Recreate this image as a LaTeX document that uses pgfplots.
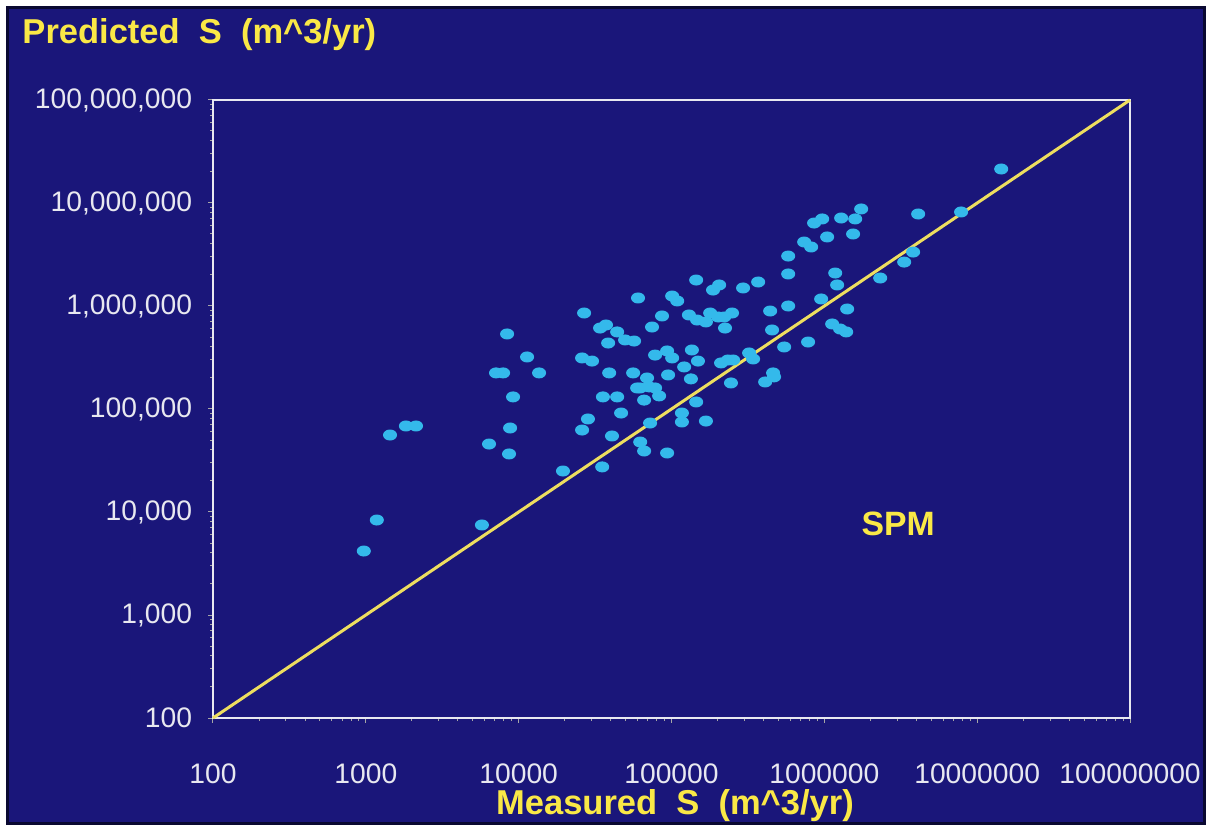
\documentclass[border=0pt]{standalone}
\usepackage{fontspec}
\setmainfont{Liberation Sans}
\usepackage{pgfplots}
\usepackage{pgfplotstable}
\pgfplotsset{compat=1.18}
\definecolor{bgblue}{RGB}{26,22,122}
\definecolor{ptcyan}{RGB}{52,185,235}
\definecolor{lnyellow}{RGB}{238,222,95}
\definecolor{ttlyellow}{RGB}{250,232,70}
\definecolor{boxwhite}{RGB}{232,232,240}

\pgfplotstableread{
meas pred
970 4180
1180 8360
1440 55900
1830 68400
2130 68400
5750 7480
6400 45700
7110 224000
7910 224000
8400 535000
8650 36600
8790 65400
9190 131000
11350 320000
13600 224000
19500 25000
26000 62500
26000 313000
26800 855000
28400 80000
30200 292000
34100 611000
35200 27400
35600 131000
37300 654000
38500 437000
39100 224000
40800 54700
44100 560000
44100 131000
46800 91400
49700 468000
56900 457000
56100 224000
59600 160000
60400 1196000
62400 47800
62400 160000
66200 39100
66200 122000
69200 200000
71300 164000
72400 73100
74600 625000
78100 334000
78100 160000
83000 134000
86700 800000
93600 366000
93600 37400
95000 214000
101000 1250000
101000 313000
109000 1119000
117000 91400
117000 74800
121000 256000
130000 818000
134000 196000
136000 374000
145000 1787000
145000 117000
147000 731000
149000 292000
168000 700000
168000 76400
179000 855000
187000 1429000
205000 1600000
202000 782000
211000 280000
221000 782000
224000 611000
234000 299000
249000 855000
253000 299000
245000 179000
294000 1496000
322000 350000
342000 306000
369000 1710000
410000 183000
442000 894000
455000 585000
462000 224000
469000 205000
546000 400000
580000 3055000
580000 2046000
580000 1000000
738000 4180000
820000 3740000
783000 447000
857000 6390000
968000 7000000
953000 1170000
1043000 4680000
1125000 669000
1178000 2090000
1213000 1600000
1268000 598000
1288000 7150000
1390000 560000
1410000 935000
1542000 5000000
1592000 7000000
1742000 8750000
2320000 1870000
3330000 2670000
3810000 3340000
4110000 7820000
7850000 8180000
14360000 21380000
}\spmdata

\begin{document}
\begin{tikzpicture}[x=0.4pt,y=0.4pt]
% background (1 unit = 1 reference pixel; axis lower-left at origin)
\fill[white] (-213,-111) rectangle (996,718);
\fill[bgblue] (-205,-105) rectangle (991,711);
\draw[black!60!bgblue, line width=1.2pt] (-205,-105) rectangle (991,711);

\begin{axis}[
  at={(0,0)}, anchor=south west,
  scale only axis,
  width=366.8pt, height=247.2pt,
  xmode=log, ymode=log,
  xmin=100, xmax=1e8, ymin=100, ymax=1e8,
  axis line style={boxwhite, line width=1pt},
  tick pos=left, tick align=outside,
  major tick length=2pt, minor tick length=1.2pt,
  every tick/.style={gray!70!white, line width=0.4pt},
  xtick={100,1000,10000,100000,1000000,10000000,100000000},
  xticklabels={100,1000,10000,100000,1000000,10000000,100000000},
  ytick={100,1000,10000,100000,1000000,10000000,100000000},
  yticklabels={100,{1,000},{10,000},{100,000},{1,000,000},{10,000,000},{100,000,000}},
  tick label style={text=boxwhite, font=\fontsize{11.3}{12}\selectfont, inner sep=0pt},
  xticklabel style={anchor=north},
  yticklabel style={anchor=east},
  xticklabel shift=16pt,
  yticklabel shift=6.2pt,
  clip=false,
]
\addplot[only marks, color=ptcyan, mark=*, mark size=2pt,
  mark options={xscale=1.3, draw=ptcyan, fill=ptcyan}]
  table[x=meas, y=pred] {\spmdata};
\addplot[lnyellow, line width=1.2pt] coordinates {(100,100) (100000000,100000000)};
\node[text=ttlyellow, font=\fontsize{13.5}{14}\selectfont\bfseries]
  at (axis cs:3040000,7640) {SPM};
\end{axis}

\node[anchor=base west, inner sep=0pt, text=ttlyellow,
  font=\fontsize{13.8}{15}\selectfont\bfseries] at (-191,675)
  {Predicted\ \ S\ \ (m\textasciicircum3/yr)};
\node[anchor=base, inner sep=0pt, text=ttlyellow,
  font=\fontsize{13.8}{15}\selectfont\bfseries] at (462,-96)
  {Measured\ \ S\ \ (m\textasciicircum3/yr)};
\pgfresetboundingbox
\path (-213,-111) rectangle (996,718);
\end{tikzpicture}
\end{document}
